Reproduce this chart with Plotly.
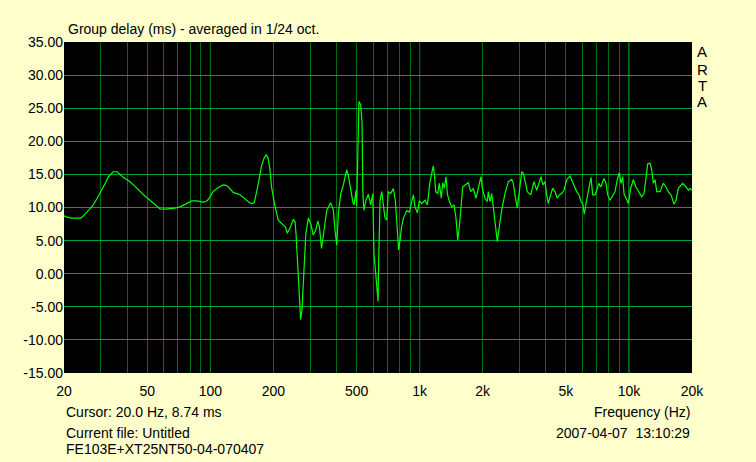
import numpy as np
import plotly.graph_objects as go

# Group delay curve (Hz, ms)
freq = [20, 20.7, 21.8, 23.1, 24.1, 25.2, 26.3, 27.6, 28.8, 30.3, 31.4, 32.6, 33.5, 34.4, 35.9, 37.0, 38.4, 40.0, 41.3, 43.7,
        46.1, 48.8, 51.5, 54.4, 57.5, 60.8, 64.2, 67.8, 71.7, 75.7, 81.5, 86.1, 89.3, 92.6, 95.4, 97.8, 101, 103, 108, 115,
        119, 122, 126, 129, 134, 139, 143, 149, 153, 158, 162, 167, 171, 176, 181, 185, 189, 193, 196, 200,
        204, 211, 218, 223, 229, 233, 240, 249, 254, 257, 260, 263, 267, 270, 274, 277, 280, 283, 286, 294,
        303, 310, 319, 326, 332, 340, 349, 360, 376, 387, 394, 402, 409, 420, 432, 440, 448, 456, 468, 480,
        486, 497, 500, 506, 513, 523, 531, 535, 541, 554, 569, 584, 597, 605, 619, 633, 637, 647, 659, 671,
        683, 696, 708, 727, 749, 765, 777, 794, 806, 819, 836, 867, 892, 909, 933, 950, 975, 996,
        1023, 1061, 1088, 1121, 1149, 1162, 1175, 1193, 1220, 1241, 1269, 1289, 1312, 1336, 1356, 1386, 1423, 1459,
        1492, 1520, 1547, 1576, 1606, 1647, 1708, 1754, 1805, 1859, 1907, 1964, 2001, 2052, 2105, 2128, 2168, 2209, 2248,
        2291, 2350, 2402, 2466, 2557, 2652, 2753, 2802, 2864, 2928, 2993, 3073, 3127, 3197, 3268, 3393, 3518, 3624,
        3729, 3800, 3871, 3971, 4045, 4117, 4195, 4322, 4432, 4546, 4647, 4771, 4893, 5041, 5227, 5361, 5480, 5627, 5771,
        5899, 6011, 6117, 6233, 6351, 6463, 6585, 6710, 6882, 7012, 7167, 7327, 7598, 7767, 7913, 8116, 8361, 8575, 8795,
        8991, 9160, 9333, 9468, 9678, 9926, 10190, 10490, 10800, 11200, 11500, 11800, 12060, 12290, 12600, 12840, 13070, 13320, 13570,
        14070, 14590, 15030, 15410, 15880, 16410, 16780, 17200, 18060, 18730, 19210, 19570, 20000]
gd = [8.74, 8.55, 8.4, 8.35, 8.4, 9.0, 9.6, 10.4, 11.4, 12.6, 13.6, 14.65, 15.1, 15.4, 15.4, 15.0, 14.55, 14.2, 13.9, 13.2,
      12.4, 11.7, 11.1, 10.4, 9.77, 9.75, 9.77, 9.9, 10.1, 10.5, 11.0, 11.0, 10.85, 10.8, 10.9, 11.2, 11.9, 12.4, 12.9, 13.4,
      13.35, 13.1, 12.6, 12.25, 12.1, 11.9, 11.6, 11.1, 10.8, 10.6, 10.7, 12.6, 14.5, 16.4, 17.5, 18.0, 17.4, 15.6, 13.1, 11.4,
      10.1, 8.1, 7.7, 7.35, 7.0, 6.1, 6.85, 8.2, 7.8, 5.85, 2.5, 0.3, -3.0, -6.9, -5.5, -2.0, 1.6, 4.0, 6.1, 8.4,
      7.35, 5.85, 6.6, 7.95, 7.1, 3.8, 6.6, 9.6, 10.7, 9.6, 6.6, 4.3, 9.1, 12.1, 13.4, 14.6, 15.7, 14.9, 12.6, 10.8,
      10.4, 12.6, 10.1, 19.2, 26.0, 25.5, 22.7, 12.6, 9.6, 11.1, 12.0, 10.4, 12.1, 3.1, -0.45, -4.2, 1.6, 11.1, 12.4, 10.6,
      8.4, 8.1, 12.4, 12.1, 12.85, 11.1, 7.35, 3.6, 5.1, 7.0, 8.4, 9.5, 9.3, 10.3, 11.9, 10.1, 9.2, 11.0,
      10.6, 11.1, 10.4, 13.9, 15.9, 16.3, 15.2, 12.4, 12.1, 13.65, 11.4, 13.75, 12.9, 14.65, 12.1, 10.9, 10.1, 10.4,
      8.4, 5.1, 7.1, 10.1, 13.1, 13.4, 13.75, 12.4, 12.9, 11.4, 12.9, 14.65, 12.6, 11.4, 10.9, 12.4, 10.9, 12.1, 10.1,
      8.1, 4.85, 7.1, 9.6, 12.1, 13.9, 14.25, 13.65, 11.6, 9.9, 12.4, 15.4, 15.2, 13.65, 12.4, 11.9, 13.9, 12.6,
      13.9, 14.65, 13.4, 13.9, 11.9, 10.6, 11.6, 12.9, 12.4, 11.4, 11.9, 12.1, 12.6, 14.2, 14.75, 13.9, 13.1, 12.4, 11.9,
      10.9, 10.6, 9.0, 10.6, 11.9, 13.65, 14.55, 11.9, 11.9, 12.6, 13.65, 13.1, 14.4, 13.65, 11.9, 11.1, 11.75, 12.4, 14.2,
      15.25, 13.65, 14.65, 12.1, 11.4, 10.6, 12.9, 14.2, 13.1, 12.1, 11.6, 12.1, 14.2, 16.6, 16.7, 15.7, 13.65, 14.2, 12.4,
      12.4, 13.65, 13.1, 12.4, 11.9, 10.5, 11.1, 12.9, 13.65, 13.1, 12.6, 12.9, 12.6]

grid_vals = [20, 30, 40, 50, 60, 70, 80, 90, 100, 200, 300, 400, 500, 600, 700, 800, 900,
             1000, 2000, 3000, 4000, 5000, 6000, 7000, 8000, 9000, 10000, 20000]
labels = {20: '20', 50: '50', 100: '100', 200: '200', 500: '500', 1000: '1k', 2000: '2k',
          5000: '5k', 10000: '10k', 20000: '20k'}
decades = [100, 1000, 10000]
y_ticks = [35, 30, 25, 20, 15, 10, 5, 0, -5, -10, -15]

fnt = dict(family='Liberation Sans, Arial, sans-serif', size=14, color='black')

fig = go.Figure(go.Scatter(x=freq, y=gd, mode='lines', line=dict(color='#00FF00', width=1.2)))

# decade lines are a bit brighter than the other vertical grid lines
for d in decades:
    fig.add_shape(type='line', xref='x', yref='paper', x0=d, x1=d, y0=0, y1=1,
                  line=dict(color='#00A040', width=1), layer='below')

fig.update_layout(
    width=756, height=462,
    margin=dict(l=64, r=64, t=42, b=89),
    paper_bgcolor='#FFFFCC', plot_bgcolor='black',
    showlegend=False, font=fnt,
    xaxis=dict(type='log', range=[np.log10(20), np.log10(20000)],
               tickvals=grid_vals, ticktext=[labels.get(v, '') for v in grid_vals],
               showgrid=True, gridcolor='#006E10', gridwidth=1, zeroline=False,
               ticks='', showline=False, tickfont=fnt, automargin=False,
               ticklabelstandoff=8),
    yaxis=dict(range=[-15, 35], tickvals=y_ticks, ticktext=['%.2f' % v for v in y_ticks],
               showgrid=True, gridcolor='#00A040', gridwidth=1, zeroline=False,
               ticks='', showline=False, tickfont=fnt, automargin=False),
)

notes = [
    ('Group delay (ms) - averaged in 1/24 oct.', 0.003, 1.039, 'left'),
    ('Cursor: 20.0 Hz, 8.74 ms', 0.0, -0.117, 'left'),
    ('Current file: Untitled', 0.0, -0.180, 'left'),
    ('FE103E+XT25NT50-04-070407', 0.0, -0.230, 'left'),
    ('Frequency (Hz)', 1.0, -0.117, 'right'),
    ('2007-04-07\u00a0\u00a013:10:29', 1.0, -0.182, 'right'),
]
for txt, x, y, anchor in notes:
    fig.add_annotation(text=txt, xref='paper', yref='paper', x=x, y=y, xanchor=anchor,
                       yanchor='middle', showarrow=False, font=fnt)

for letter, y in zip('ARTA', [0.970, 0.918, 0.870, 0.820]):
    fig.add_annotation(text=letter, xref='paper', yref='paper', x=1.016, y=y, xanchor='center',
                       yanchor='middle', showarrow=False, font=dict(fnt, size=15))

# drop the browser's default page margin so the figure sits at the window corner
fig.write_html('out.html', config={'displayModeBar': False},
               post_script="document.body.style.margin='0';")
